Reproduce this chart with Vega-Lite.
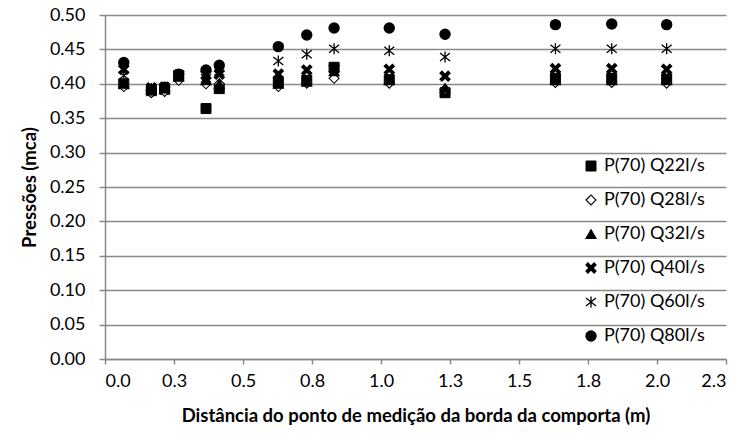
{
  "$schema": "https://vega.github.io/schema/vega-lite/v6.json",
  "width": 621,
  "height": 344,
  "autosize": {"type": "none"},
  "padding": {"left": 105, "top": 15, "right": 27, "bottom": 74},
  "background": "white",
  "config": {
    "font": "Lato",
    "view": {"stroke": null},
    "axis": {
      "labelFont": "Lato",
      "labelFontSize": 18,
      "labelColor": "#000000",
      "titleFont": "Lato",
      "titleFontSize": 18.5,
      "titleFontWeight": "bold",
      "titleColor": "#000000",
      "domainColor": "#898989",
      "tickColor": "#898989",
      "gridColor": "#898989",
      "domainWidth": 1.5,
      "tickWidth": 1.5,
      "gridWidth": 1.5
    }
  },
  "data": {
    "values": [
      {"d": 0.068, "p": 0.400, "s": "P(70) Q22l/s"},
      {"d": 0.168, "p": 0.390, "s": "P(70) Q22l/s"},
      {"d": 0.216, "p": 0.392, "s": "P(70) Q22l/s"},
      {"d": 0.267, "p": 0.412, "s": "P(70) Q22l/s"},
      {"d": 0.366, "p": 0.364, "s": "P(70) Q22l/s"},
      {"d": 0.414, "p": 0.393, "s": "P(70) Q22l/s"},
      {"d": 0.628, "p": 0.402, "s": "P(70) Q22l/s"},
      {"d": 0.731, "p": 0.405, "s": "P(70) Q22l/s"},
      {"d": 0.830, "p": 0.424, "s": "P(70) Q22l/s"},
      {"d": 1.030, "p": 0.406, "s": "P(70) Q22l/s"},
      {"d": 1.232, "p": 0.387, "s": "P(70) Q22l/s"},
      {"d": 1.632, "p": 0.408, "s": "P(70) Q22l/s"},
      {"d": 1.836, "p": 0.408, "s": "P(70) Q22l/s"},
      {"d": 2.035, "p": 0.407, "s": "P(70) Q22l/s"},

      {"d": 0.068, "p": 0.396, "s": "P(70) Q28l/s"},
      {"d": 0.168, "p": 0.387, "s": "P(70) Q28l/s"},
      {"d": 0.216, "p": 0.389, "s": "P(70) Q28l/s"},
      {"d": 0.267, "p": 0.405, "s": "P(70) Q28l/s"},
      {"d": 0.366, "p": 0.400, "s": "P(70) Q28l/s"},
      {"d": 0.414, "p": 0.400, "s": "P(70) Q28l/s"},
      {"d": 0.628, "p": 0.396, "s": "P(70) Q28l/s"},
      {"d": 0.731, "p": 0.401, "s": "P(70) Q28l/s"},
      {"d": 0.830, "p": 0.408, "s": "P(70) Q28l/s"},
      {"d": 1.030, "p": 0.401, "s": "P(70) Q28l/s"},
      {"d": 1.232, "p": 0.392, "s": "P(70) Q28l/s"},
      {"d": 1.632, "p": 0.402, "s": "P(70) Q28l/s"},
      {"d": 1.836, "p": 0.402, "s": "P(70) Q28l/s"},
      {"d": 2.035, "p": 0.401, "s": "P(70) Q28l/s"},

      {"d": 0.068, "p": 0.400, "s": "P(70) Q32l/s"},
      {"d": 0.168, "p": 0.392, "s": "P(70) Q32l/s"},
      {"d": 0.216, "p": 0.393, "s": "P(70) Q32l/s"},
      {"d": 0.267, "p": 0.410, "s": "P(70) Q32l/s"},
      {"d": 0.366, "p": 0.405, "s": "P(70) Q32l/s"},
      {"d": 0.414, "p": 0.400, "s": "P(70) Q32l/s"},
      {"d": 0.628, "p": 0.400, "s": "P(70) Q32l/s"},
      {"d": 0.731, "p": 0.403, "s": "P(70) Q32l/s"},
      {"d": 0.830, "p": 0.418, "s": "P(70) Q32l/s"},
      {"d": 1.030, "p": 0.405, "s": "P(70) Q32l/s"},
      {"d": 1.232, "p": 0.394, "s": "P(70) Q32l/s"},
      {"d": 1.632, "p": 0.405, "s": "P(70) Q32l/s"},
      {"d": 1.836, "p": 0.405, "s": "P(70) Q32l/s"},
      {"d": 2.035, "p": 0.405, "s": "P(70) Q32l/s"},

      {"d": 0.068, "p": 0.421, "s": "P(70) Q40l/s"},
      {"d": 0.168, "p": 0.394, "s": "P(70) Q40l/s"},
      {"d": 0.216, "p": 0.395, "s": "P(70) Q40l/s"},
      {"d": 0.267, "p": 0.413, "s": "P(70) Q40l/s"},
      {"d": 0.366, "p": 0.413, "s": "P(70) Q40l/s"},
      {"d": 0.414, "p": 0.414, "s": "P(70) Q40l/s"},
      {"d": 0.628, "p": 0.414, "s": "P(70) Q40l/s"},
      {"d": 0.731, "p": 0.420, "s": "P(70) Q40l/s"},
      {"d": 0.830, "p": 0.422, "s": "P(70) Q40l/s"},
      {"d": 1.030, "p": 0.421, "s": "P(70) Q40l/s"},
      {"d": 1.232, "p": 0.411, "s": "P(70) Q40l/s"},
      {"d": 1.632, "p": 0.422, "s": "P(70) Q40l/s"},
      {"d": 1.836, "p": 0.422, "s": "P(70) Q40l/s"},
      {"d": 2.035, "p": 0.421, "s": "P(70) Q40l/s"},

      {"d": 0.068, "p": 0.412, "s": "P(70) Q60l/s"},
      {"d": 0.168, "p": 0.393, "s": "P(70) Q60l/s"},
      {"d": 0.216, "p": 0.394, "s": "P(70) Q60l/s"},
      {"d": 0.267, "p": 0.413, "s": "P(70) Q60l/s"},
      {"d": 0.366, "p": 0.408, "s": "P(70) Q60l/s"},
      {"d": 0.414, "p": 0.418, "s": "P(70) Q60l/s"},
      {"d": 0.628, "p": 0.433, "s": "P(70) Q60l/s"},
      {"d": 0.731, "p": 0.443, "s": "P(70) Q60l/s"},
      {"d": 0.830, "p": 0.451, "s": "P(70) Q60l/s"},
      {"d": 1.030, "p": 0.448, "s": "P(70) Q60l/s"},
      {"d": 1.232, "p": 0.439, "s": "P(70) Q60l/s"},
      {"d": 1.632, "p": 0.451, "s": "P(70) Q60l/s"},
      {"d": 1.836, "p": 0.451, "s": "P(70) Q60l/s"},
      {"d": 2.035, "p": 0.451, "s": "P(70) Q60l/s"},

      {"d": 0.068, "p": 0.431, "s": "P(70) Q80l/s"},
      {"d": 0.168, "p": 0.391, "s": "P(70) Q80l/s"},
      {"d": 0.216, "p": 0.395, "s": "P(70) Q80l/s"},
      {"d": 0.267, "p": 0.414, "s": "P(70) Q80l/s"},
      {"d": 0.366, "p": 0.420, "s": "P(70) Q80l/s"},
      {"d": 0.414, "p": 0.427, "s": "P(70) Q80l/s"},
      {"d": 0.628, "p": 0.454, "s": "P(70) Q80l/s"},
      {"d": 0.731, "p": 0.471, "s": "P(70) Q80l/s"},
      {"d": 0.830, "p": 0.481, "s": "P(70) Q80l/s"},
      {"d": 1.030, "p": 0.481, "s": "P(70) Q80l/s"},
      {"d": 1.232, "p": 0.472, "s": "P(70) Q80l/s"},
      {"d": 1.632, "p": 0.486, "s": "P(70) Q80l/s"},
      {"d": 1.836, "p": 0.487, "s": "P(70) Q80l/s"},
      {"d": 2.035, "p": 0.486, "s": "P(70) Q80l/s"}
    ]
  },
  "mark": {"type": "point", "stroke": "black", "opacity": 1, "size": 100},
  "encoding": {
    "x": {
      "field": "d",
      "type": "quantitative",
      "scale": {"domain": [0, 2.25], "nice": false, "zero": false},
      "axis": {
        "title": "Distância do ponto de medição da borda da comporta (m)",
        "values": [0, 0.25, 0.5, 0.75, 1, 1.25, 1.5, 1.75, 2, 2.25],
        "format": ".1f",
        "grid": false,
        "tickSize": 5,
        "labelPadding": 8,
        "titlePadding": 16
      }
    },
    "y": {
      "field": "p",
      "type": "quantitative",
      "scale": {"domain": [0, 0.5], "nice": false},
      "axis": {
        "title": "Pressões (mca)",
        "values": [0, 0.05, 0.1, 0.15, 0.2, 0.25, 0.3, 0.35, 0.4, 0.45, 0.5],
        "format": ".2f",
        "grid": true,
        "tickSize": 6,
        "labelPadding": 14,
        "titlePadding": 10
      }
    },
    "shape": {
      "field": "s",
      "type": "nominal",
      "scale": {
        "domain": ["P(70) Q22l/s", "P(70) Q28l/s", "P(70) Q32l/s", "P(70) Q40l/s", "P(70) Q60l/s", "P(70) Q80l/s"],
        "range": [
          "square",
          "diamond",
          "triangle-up",
          "M-1,-0.62L-0.62,-1L0,-0.38L0.62,-1L1,-0.62L0.38,0L1,0.62L0.62,1L0,0.38L-0.62,1L-1,0.62L-0.38,0Z",
          "M-1,-0.8L1,0.8M1,-0.8L-1,0.8M0,-1.1L0,1.1",
          "circle"
        ]
      },
      "legend": {
        "title": null,
        "orient": "none",
        "legendX": 477,
        "legendY": 142,
        "rowPadding": 16,
        "labelFont": "Lato",
        "labelFontSize": 18,
        "labelColor": "#000000",
        "labelOffset": 4,
        "labelLimit": 300,
        "symbolOpacity": 1,
        "symbolSize": 100,
        "encode": {"symbols": {"update": {"stroke": {"value": "black"}}}}
      }
    },
    "fill": {
      "field": "s",
      "type": "nominal",
      "scale": {
        "domain": ["P(70) Q22l/s", "P(70) Q28l/s", "P(70) Q32l/s", "P(70) Q40l/s", "P(70) Q60l/s", "P(70) Q80l/s"],
        "range": ["black", "white", "black", "black", "black", "black"]
      },
      "legend": {"title": null}
    },
    "strokeWidth": {
      "field": "s",
      "type": "nominal",
      "scale": {
        "domain": ["P(70) Q22l/s", "P(70) Q28l/s", "P(70) Q32l/s", "P(70) Q40l/s", "P(70) Q60l/s", "P(70) Q80l/s"],
        "range": [1, 1.4, 1, 1, 1.6, 1]
      },
      "legend": {"title": null}
    }
  }
}
